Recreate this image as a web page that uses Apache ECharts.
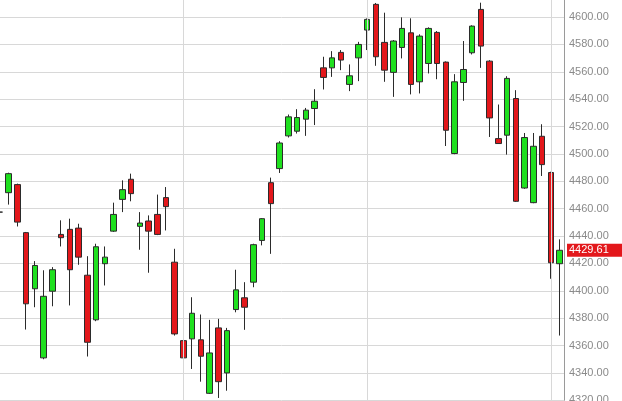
<!DOCTYPE html>
<html>
<head>
<meta charset="utf-8">
<script src="https://cdn.jsdelivr.net/npm/echarts@6/dist/echarts.min.js"></script>
<style>html,body{margin:0;padding:0;background:#fff;}#c{width:622px;height:401px;}</style>
</head>
<body>
<div id="c"></div>
<script>
// Daily candles: [open, close, low, high]
const categories = [];
for (let i = 1; i <= 65; i++) categories.push('D' + i);
const opens  = [4457.5,4471.7,4477.6,4442.5,4401.5,4351,4399.7,4441.2,4444.9,4445.8,4411.4,4378.8,4419.8,4443.6,4466.8,4481.5,4447.1,4451,4455.8,4468.1,4420.9,4363.6,4364.9,4364.2,4325.1,4372.9,4340,4386.3,4394.9,4406.3,4436.8,4479,4489.3,4513.2,4516.6,4525.4,4533.2,4562.9,4562.9,4574.2,4550.8,4570.2,4590.5,4609.3,4581.5,4559.6,4577.8,4588.5,4552.7,4566.1,4588.8,4567.1,4500.3,4552.2,4573.9,4605.6,4567.8,4511.2,4513.7,4540.5,4475.1,4464.4,4512.9,4486.4,4419.8];
const closes = [4457.5,4485.6,4450.2,4390.5,4418.5,4396,4415.4,4438.8,4415.4,4424.6,4362.4,4432.2,4424.6,4455.8,4473.9,4471,4449.5,4443.6,4441.2,4461.5,4368.5,4351,4383.6,4352.2,4354.6,4333.6,4370.9,4400.7,4388,4433.7,4452.7,4463.7,4508,4527.1,4526.6,4532,4538.5,4555.9,4570.2,4568.6,4557.1,4580,4598.3,4571,4561.2,4582.5,4591.7,4550.8,4586.1,4591.7,4566.1,4517.3,4552.7,4561.7,4593.4,4578.8,4526.3,4507.6,4555.2,4465.4,4512,4505.6,4492.2,4420.5,4429.61];
const lows   = [4452,4463,4447,4371.7,4388,4350,4388.7,4432.4,4389.3,4419,4352,4377.8,4403.9,4443,4457.5,4465.4,4430,4413.2,4440.7,4444.1,4367.3,4323.9,4342.9,4333.6,4324.6,4321.7,4327,4384.3,4371.5,4402.6,4433.2,4427,4486.1,4512,4514.9,4513.2,4521.1,4547.1,4556.3,4561.2,4545.9,4553.2,4575.9,4564.4,4552.7,4541.7,4569.8,4543.5,4544.2,4558.8,4554.6,4505.8,4499.8,4538.8,4572.7,4562.9,4512.4,4507.5,4499.5,4465,4474.5,4464,4483.9,4408.8,4367.3];
const highs  = [4464,4486.3,4478.3,4443,4421.7,4415,4417.3,4451.5,4452.7,4449,4425.3,4434.4,4432.4,4464.4,4480.7,4485.6,4457.5,4455.1,4470.3,4475.8,4430.7,4385,4395.3,4382.7,4378.8,4379.5,4372.9,4415.4,4406.3,4434.4,4453.1,4482.7,4509.3,4528.8,4532.7,4533.6,4547.3,4571,4575.1,4575.9,4565.4,4581.9,4599,4610.3,4603.2,4583.2,4599.8,4599.1,4587.4,4592.5,4589.8,4567.6,4558.3,4582.5,4594,4610.5,4568.5,4536.1,4556.8,4546.6,4515.3,4515.3,4521.7,4487,4437.6];
const gridIdx = [21, 42, 63];
const lastPrice = 4429.61;
const yMin = 4320, yMax = 4620, yStep = 20;

const candles = opens.map((o, i) => [o, closes[i], lows[i], highs[i]]);

const chart = echarts.init(document.getElementById('c'), null, {renderer: 'canvas'});
chart.setOption({
  animation: false,
  backgroundColor: '#ffffff',
  grid: { left: -4.57, right: 58, top: -10.3, bottom: 0.7, containLabel: false, outerBoundsMode: 'none' },
  xAxis: {
    type: 'category', data: categories, boundaryGap: true,
    axisLine: {show: false}, axisTick: {show: false}, axisLabel: {show: false}, splitLine: {show: false}
  },
  yAxis: {
    type: 'value', position: 'right', min: yMin, max: yMax, interval: yStep,
    axisLine: {show: true, lineStyle: {color: '#9a9a9a', width: 1}},
    axisTick: {show: false},
    axisLabel: {
      color: '#8a8a8a', fontFamily: 'Liberation Sans, Arial, sans-serif', fontSize: 11, margin: 5,
      formatter: v => v.toFixed(2)
    },
    splitLine: {show: true, lineStyle: {color: '#d8d8d8', width: 1}}
  },
  series: [
    {
      type: 'line', data: [], z: 1, clip: false, silent: true, symbol: 'none',
      markLine: {
        silent: true, symbol: 'none', animation: false,
        lineStyle: {color: '#d8d8d8', width: 1, type: 'solid'},
        label: {show: false},
        data: gridIdx.map(i => ({xAxis: i}))
      }
    },
    {
      type: 'candlestick', data: candles, z: 3, barWidth: 6, clip: false,
      itemStyle: {
        color: '#1fe01f', color0: '#e3171b',
        borderColor: '#2b2b2b', borderColor0: '#2b2b2b', borderWidth: 1
      },
      markLine: {
        silent: true, symbol: 'none', animation: false,
        lineStyle: {color: 'rgba(0,0,0,0)', width: 0},
        label: {
          show: true, position: 'end', distance: 3, formatter: lastPrice.toFixed(2),
          color: '#ffffff', backgroundColor: '#e3171b', padding: [1, 14, 1, 2], opacity: 1,
          fontFamily: 'Liberation Sans, Arial, sans-serif', fontSize: 11
        },
        data: [{yAxis: lastPrice}]
      }
    }
  ]
});
</script>
</body>
</html>
